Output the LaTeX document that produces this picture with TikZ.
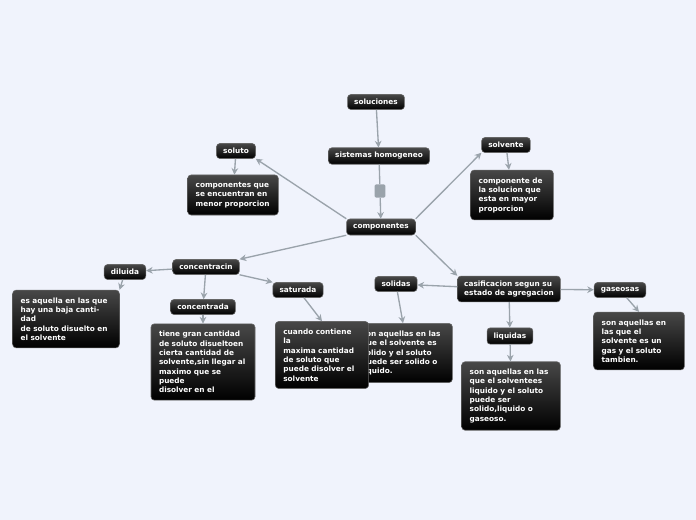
\documentclass[tikz,border=0pt]{standalone}
\usepackage{fontspec}
\setmainfont{DejaVu Sans}
\usetikzlibrary{positioning,arrows.meta}
\definecolor{bgblue}{HTML}{F0F3FC}
\definecolor{linkgray}{HTML}{9AA3AB}
\tikzset{topic/.style={shape=rectangle,rounded corners=2.5pt,top color=black!72,
        bottom color=black,draw=black!60,text=white,inner xsep=5pt,inner ysep=3.5pt,
        font=\bfseries\fontsize{5.5}{7}\selectfont},
        note/.style={topic,align=left,inner xsep=6pt,inner ysep=5.5pt},
        link/.style={draw=linkgray,line width=1pt,-{Stealth[length=5pt,width=5pt]}}}
\begin{document}
\begin{tikzpicture}[x=0.75pt,y=-0.75pt]
  \fill[bgblue] (0,0) rectangle (696,520);
  \useasboundingbox (0,0) rectangle (696,520);
  %% main line
  \node[topic] (soluciones) at (376,102) {soluciones};
  \node[topic] (sistemas) at (379,156) {sistemas homogeneo};
  \node[shape=rectangle,rounded corners=1pt,fill=linkgray,minimum width=8pt,
        minimum height=10pt,inner sep=0pt] (knot) at (380,191) {};
  \node[topic] (componentes) at (381,227) {componentes};
  %% upper side
  \node[topic] (soluto) at (236,151) {soluto};
  \node[note,text width=56pt] (solutodesc) at (233,195)
       {componentes que\\se encuentran en\\menor proporcion};
  \node[topic] (solvente) at (506,145) {solvente};
  \node[note,text width=50pt] (solventedesc) at (512,195)
       {componente de\\la solucion que\\esta en mayor\\proporcion};
  %% concentracion
  \node[topic] (concentracin) at (206,267) {concentracin};
  \node[topic] (diluida) at (125,272) {diluida};
  \node[note,text width=68pt] (diluidadesc) at (66,319)
       {es aquella en las que\\hay una baja cantidad\\de soluto disuelto en\\el solvente};
  \node[topic] (concentrada) at (203,307) {concentrada};
  \node[note,text width=66pt] (concentradadesc) at (203,362)
       {tiene gran cantidad\\de soluto disueltoen\\cierta cantidad de\\solvente,sin llegar al\\maximo que se puede\\disolver en el};
  \node[topic] (saturada) at (298,290) {saturada};
  %% clasificacion
  \node[topic,align=left] (clasificacion) at (509,289)
       {casificacion segun su\\estado de agregacion};
  \node[topic] (solidos) at (396,284) {solidas};
  \node[note,text width=62pt] (solidosdesc) at (403,353)
       {son aquellas en las\\que el solvente es\\solido y el soluto\\puede ser solido o\\liquido.};
  \node[note,text width=58pt] (saturadadesc) at (322,355)
       {cuando contiene la\\maxima cantidad\\de soluto que\\puede disolver el\\solvente};
  \node[topic] (gaseosas) at (620,290) {gaseosas};
  \node[note,text width=56pt] (gaseosasdesc) at (639,341)
       {son aquellas en\\las que el\\solvente es un\\gas y el soluto\\tambien.};
  \node[topic] (liquidos) at (510,336) {liquidas};
  \node[note,text width=62pt] (liquidosdesc) at (511,396)
       {son aquellas en las\\que el solventees\\liquido y el soluto\\puede ser\\solido,liquido o\\gaseoso.};
  %% connectors
  \draw[link] (soluciones) -- (sistemas);
  \draw[draw=linkgray,line width=1pt] (sistemas) -- (knot);
  \draw[link] (knot) -- (componentes);
  \draw[link] (componentes.north west) -- (soluto.south east);
  \draw[link] (componentes.north east) -- (solvente.south west);
  \draw[link] (soluto) -- (solutodesc);
  \draw[link] (solvente) -- (solventedesc);
  \draw[link] (componentes.south west) -- (concentracin.north east);
  \draw[link] (componentes.south east) -- (clasificacion.north west);
  \draw[link] (concentracin) -- (diluida);
  \draw[link] (diluida) -- (diluidadesc.north east);
  \draw[link] (concentracin) -- (concentrada);
  \draw[link] (concentrada) -- (concentradadesc);
  \draw[link] (concentracin.south east) -- (saturada.north west);
  \draw[link] (saturada) -- (saturadadesc.north);
  \draw[link] (clasificacion) -- (solidos);
  \draw[link] (solidos) -- (solidosdesc.north);
  \draw[link] (clasificacion) -- (gaseosas);
  \draw[link] (gaseosas) -- (gaseosasdesc.north);
  \draw[link] (clasificacion) -- (liquidos);
  \draw[link] (liquidos) -- (liquidosdesc);
\end{tikzpicture}
\end{document}
